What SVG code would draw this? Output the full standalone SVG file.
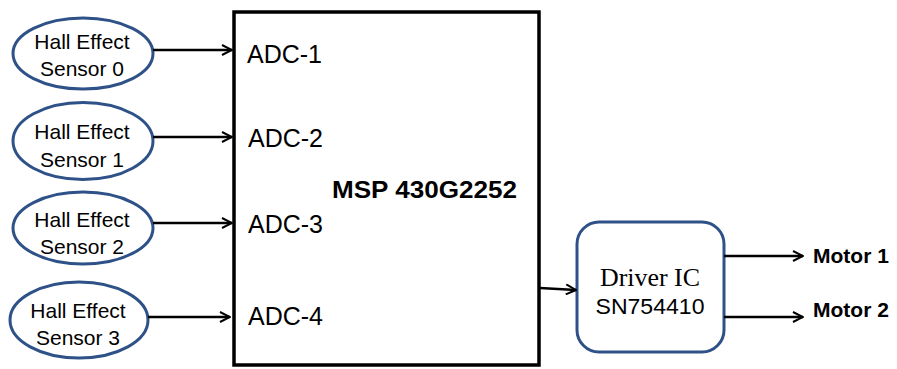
<svg xmlns="http://www.w3.org/2000/svg" width="897" height="369" viewBox="0 0 897 369">
<defs>
<marker id="arr" viewBox="0 0 12 12" refX="11" refY="6" markerWidth="12" markerHeight="12" markerUnits="userSpaceOnUse" orient="auto">
<path d="M1,1 L11,6 L1,11" fill="none" stroke="#000" stroke-width="2"/>
</marker>
<style>
.ell{fill:#fff;stroke:#2E5288;stroke-width:3}
.sens{font-family:"Liberation Sans",Arial,sans-serif;font-size:21px;fill:#000;text-anchor:middle}
.adc{font-family:"Liberation Sans",Arial,sans-serif;font-size:25px;fill:#000}
.bold{font-family:"Liberation Sans",Arial,sans-serif;font-weight:bold;fill:#000}
.con{stroke:#000;stroke-width:2.5;fill:none;marker-end:url(#arr)}
</style>
</defs>
<rect width="897" height="369" fill="#fff"/>
<g id="sensor0"><ellipse class="ell" cx="83" cy="53.5" rx="70" ry="35.5"/><text class="sens" x="82" y="49">Hall Effect</text><text class="sens" x="82" y="76">Sensor 0</text></g>
<g id="sensor1"><ellipse class="ell" cx="83" cy="141" rx="70" ry="38.5"/><text class="sens" x="82" y="139">Hall Effect</text><text class="sens" x="82" y="167">Sensor 1</text></g>
<g id="sensor2"><ellipse class="ell" cx="83" cy="228" rx="70" ry="36"/><text class="sens" x="82" y="227">Hall Effect</text><text class="sens" x="82" y="254">Sensor 2</text></g>
<g id="sensor3"><ellipse class="ell" cx="79" cy="320" rx="69" ry="38"/><text class="sens" x="78" y="318">Hall Effect</text><text class="sens" x="78" y="345">Sensor 3</text></g>
<g id="msp">
<rect x="234" y="12" width="305" height="353" fill="#fff" stroke="#000" stroke-width="3.5"/>
<text class="adc" x="247" y="63">ADC-1</text>
<text class="adc" x="248" y="147">ADC-2</text>
<text class="adc" x="248" y="233">ADC-3</text>
<text class="adc" x="248" y="325">ADC-4</text>
<text class="bold" x="332" y="198" font-size="24" textLength="185" lengthAdjust="spacingAndGlyphs">MSP 430G2252</text>
</g>
<g id="driver">
<rect x="577" y="222" width="147" height="130" rx="22" ry="22" fill="#fff" stroke="#2E5288" stroke-width="3"/>
<text x="650" y="286" font-family="Liberation Serif,Times New Roman,serif" font-size="26" text-anchor="middle" textLength="100" lengthAdjust="spacingAndGlyphs">Driver IC</text>
<text x="650" y="314" font-family="Liberation Sans,Arial,sans-serif" font-size="22" text-anchor="middle" textLength="109" lengthAdjust="spacingAndGlyphs">SN754410</text>
</g>
<g id="motor1"><text class="bold" x="813" y="263" font-size="21">Motor 1</text></g>
<g id="motor2"><text class="bold" x="813" y="317" font-size="21">Motor 2</text></g>
<g id="connectors">
<line class="con" x1="153" y1="50" x2="232" y2="50"/>
<line class="con" x1="153" y1="137" x2="232" y2="137"/>
<line class="con" x1="153" y1="223" x2="232" y2="223"/>
<line class="con" x1="148" y1="317" x2="230" y2="317"/>
<line class="con" x1="540" y1="288" x2="576" y2="290"/>
<line class="con" x1="724" y1="256" x2="803" y2="256"/>
<line class="con" x1="724" y1="317" x2="803" y2="317"/>
</g>
</svg>
